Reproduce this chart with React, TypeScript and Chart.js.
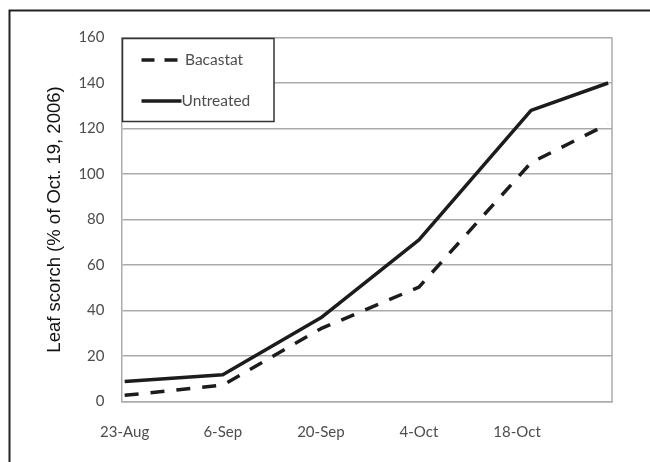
import { useEffect, useRef } from 'react';
import { Chart, registerables } from 'chart.js';

Chart.register(...registerables);

// Days after 23-Aug-2006 at which leaf scorch was rated
const dayOffsets = [0, 14, 28, 42, 58, 69];
const bacastat = [2.7, 7.2, 32, 50.3, 105, 122];
const untreated = [8.8, 11.8, 36.8, 71, 128, 140];
const tickDays = [0, 14, 28, 42, 56];
const tickLabels = ['23-Aug', '6-Sep', '20-Sep', '4-Oct', '18-Oct'];
const seriesNames = ['Bacastat', 'Untreated'];
const yTitle = 'Leaf scorch (% of Oct. 19, 2006)';
const yTicks = { min: 0, max: 160, step: 20 };
const xRange = { min: -0.45, max: 69.55 };

const GRID = '#ababab';
const LINE = '#1c1c1c';
const TICK_COLOR = '#4d4d4d';
const TICK_FONT = 'Lato';

const framePlugin = {
  id: 'frameAndLegend',
  beforeDraw(chart: any) {
    const { ctx, width, height } = chart;
    ctx.save();
    ctx.fillStyle = '#ffffff';
    ctx.fillRect(0, 0, width, height);
    ctx.strokeStyle = '#222222';
    ctx.lineWidth = 2;
    ctx.beginPath();
    ctx.moveTo(width, 10.5);
    ctx.lineTo(9.5, 10.5);
    ctx.lineTo(9.5, height);
    ctx.stroke();
    ctx.restore();
  },
  beforeDatasetsDraw(chart: any) {
    const { ctx, chartArea: a } = chart;
    ctx.save();
    ctx.strokeStyle = GRID;
    ctx.lineWidth = 1.5;
    ctx.beginPath();
    ctx.moveTo(a.right, a.top);
    ctx.lineTo(a.right, a.bottom);
    ctx.stroke();
    ctx.restore();
  },
  afterDatasetsDraw(chart: any) {
    const { ctx, chartArea: a } = chart;
    const bx = a.left + 1;
    const by = a.top + 1;
    const bw = 151.5;
    const bh = 83;
    ctx.save();
    ctx.fillStyle = '#ffffff';
    ctx.fillRect(bx, by, bw, bh);
    ctx.strokeStyle = '#333333';
    ctx.lineWidth = 1.5;
    ctx.strokeRect(bx, by, bw, bh);
    const rows = [by + 21.5, by + 62.5];
    chart.data.datasets.forEach((ds: any, i: number) => {
      const y = rows[i];
      ctx.strokeStyle = ds.borderColor;
      ctx.lineWidth = ds.borderWidth;
      ctx.setLineDash(i === 0 ? [13, 10] : []);
      ctx.beginPath();
      ctx.moveTo(bx + 19, y);
      ctx.lineTo(bx + (i === 0 ? 55 : 59), y);
      ctx.stroke();
      ctx.setLineDash([]);
      ctx.fillStyle = TICK_COLOR;
      ctx.font = `15.5px ${TICK_FONT}`;
      ctx.textBaseline = 'middle';
      ctx.textAlign = 'left';
      ctx.fillText(ds.label, bx + (i === 0 ? 62.5 : 59), y);
    });
    ctx.restore();
  },
};

export default function App() {
  const ref = useRef<HTMLCanvasElement>(null);

  useEffect(() => {
    if (!ref.current) return;
    const chart = new Chart(ref.current, {
      type: 'line',
      data: {
        datasets: [
          {
            label: seriesNames[0],
            data: dayOffsets.map((d, i) => ({ x: d, y: bacastat[i] })),
            borderColor: LINE,
            borderWidth: 3.5,
            borderDash: [14, 12],
            borderJoinStyle: 'round',
            pointRadius: 0,
            tension: 0,
            fill: false,
          },
          {
            label: seriesNames[1],
            data: dayOffsets.map((d, i) => ({ x: d, y: untreated[i] })),
            borderColor: LINE,
            borderWidth: 3.5,
            borderJoinStyle: 'round',
            pointRadius: 0,
            tension: 0,
            fill: false,
          },
        ],
      },
      options: {
        animation: false,
        responsive: false,
        maintainAspectRatio: false,
        layout: { padding: { top: 37.5, right: 38, left: 0, bottom: 0 } },
        plugins: {
          legend: { display: false },
          tooltip: { enabled: false },
        },
        scales: {
          x: {
            type: 'linear',
            min: xRange.min,
            max: xRange.max,
            afterBuildTicks: (s: any) => {
              s.ticks = tickDays.map((v) => ({ value: v }));
            },
            afterFit: (s: any) => {
              s.height = 60.5;
            },
            grid: { display: false, drawTicks: false },
            border: { display: true, color: GRID, width: 1.5 },
            ticks: {
              autoSkip: false,
              maxRotation: 0,
              padding: 22,
              color: TICK_COLOR,
              font: { family: TICK_FONT, size: 15 },
              callback: (v: any) => {
                const i = tickDays.indexOf(Number(v));
                return i >= 0 ? tickLabels[i] : '';
              },
            },
          },
          y: {
            min: yTicks.min,
            max: yTicks.max,
            afterFit: (s: any) => {
              s.width = 121.5;
            },
            grid: { color: GRID, lineWidth: 1.5, drawTicks: false },
            border: { display: true, color: GRID, width: 1.5 },
            ticks: {
              stepSize: yTicks.step,
              padding: 17,
              color: TICK_COLOR,
              font: { family: TICK_FONT, size: 15 },
            },
            title: {
              display: true,
              text: yTitle,
              color: '#111111',
              font: { family: 'Liberation Sans', size: 18.5 },
              padding: { top: 44, bottom: 0 },
            },
          },
        },
      },
      plugins: [framePlugin],
    } as any);
    return () => chart.destroy();
  }, []);

  return (
    <div style={{ position: 'fixed', left: 0, top: 0, width: 650, height: 462 }}>
      <canvas ref={ref} width={650} height={462} style={{ width: 650, height: 462, display: 'block' }} />
    </div>
  );
}
